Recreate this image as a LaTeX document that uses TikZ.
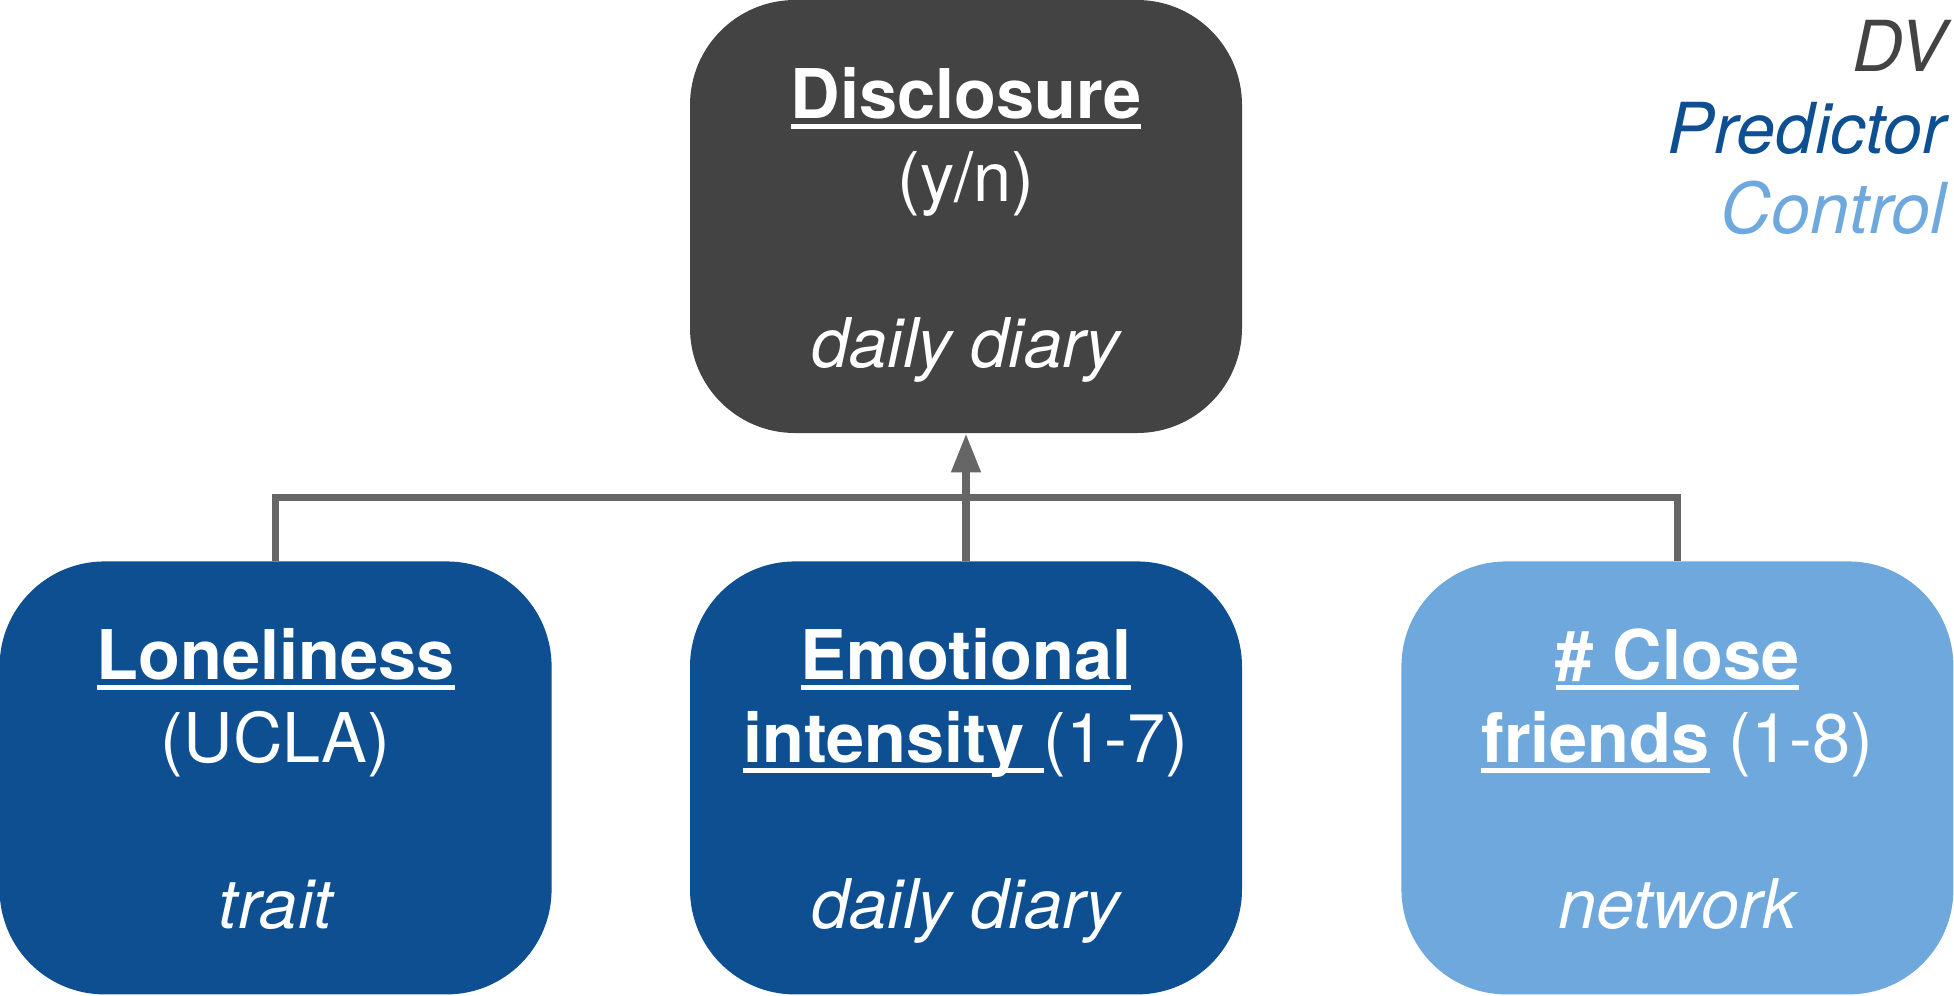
\documentclass[tikz,border=0pt]{standalone}
\usepackage{fontspec}
\setmainfont{TeX Gyre Heros}
\usetikzlibrary{positioning,arrows.meta}

\definecolor{dvgray}{HTML}{434343}
\definecolor{predblue}{HTML}{0E4F91}
\definecolor{ctrlblue}{HTML}{6FA8DC}
\definecolor{linkgray}{HTML}{666666}

% underlined word, and the three text lines of a box
\newcommand\undl[1]{\setbox0=\hbox{#1}\rlap{\rule[-3pt]{\wd0}{1.4pt}}\box0\relax}
\newcommand\cardline[2]{\kern#1\hbox to\hsize{\hss\smash{#2}\hss}}
\newcommand\cardtext[3]{\vbox to 4.33cm{\offinterlineskip\hsize=5.52cm
    \cardline{1.18cm}{#1}\cardline{0.83cm}{#2}\cardline{1.66cm}{\itshape #3}\vss}}

\tikzset{
    card/.style={rounded corners=1.05cm, inner sep=0pt, text=white,
        font=\fontsize{19.5}{23.5}\selectfont},
    dvbox/.style={card, fill=dvgray},
    predbox/.style={card, fill=predblue},
    ctrlbox/.style={card, fill=ctrlblue},
    link/.style={draw=linkgray, line width=2pt},
    legend/.style={anchor=base east, inner sep=0pt, font=\fontsize{20}{24}\selectfont\itshape}
}

\begin{document}
\begin{tikzpicture}
        \useasboundingbox (0,0) rectangle (19.54,-9.95);
        % outcome
        \node[dvbox] (disc) at (9.66,-2.165)
            {\cardtext{\undl{\bfseries Disclosure}}{(y/n)}{daily diary}};
        % predictors and control
        \node[predbox, below=1.27cm of disc] (emo)
            {\cardtext{\undl{\bfseries Emotional}}{\undl{\bfseries intensity\ }(1-7)}{daily diary}};
        \node[predbox, left=1.37cm of emo] (lone)
            {\cardtext{\undl{\bfseries Loneliness}}{(UCLA)}{trait}};
        \node[ctrlbox, right=1.58cm of emo] (friends)
            {\cardtext{\undl{\bfseries\# Close}}{\undl{\bfseries friends} (1-8)}{network}};

        \coordinate (bus) at ([yshift=0.63cm]emo.north);
        \draw[link] (lone.north) |- (bus) -| (friends.north);
        \draw[link, -{Triangle[width=8pt,length=11pt]}] (emo.north) -- (disc.south);

        % legend
        \node[legend, text=dvgray] (dv) at (19.47,-0.71) {DV};
        \node[legend, text=predblue] (pred) at ([yshift=-0.82cm]dv.base east) {Predictor};
        \node[legend, text=ctrlblue] (ctrl) at ([yshift=-0.80cm]pred.base east) {Control};
    \end{tikzpicture}
\end{document}
